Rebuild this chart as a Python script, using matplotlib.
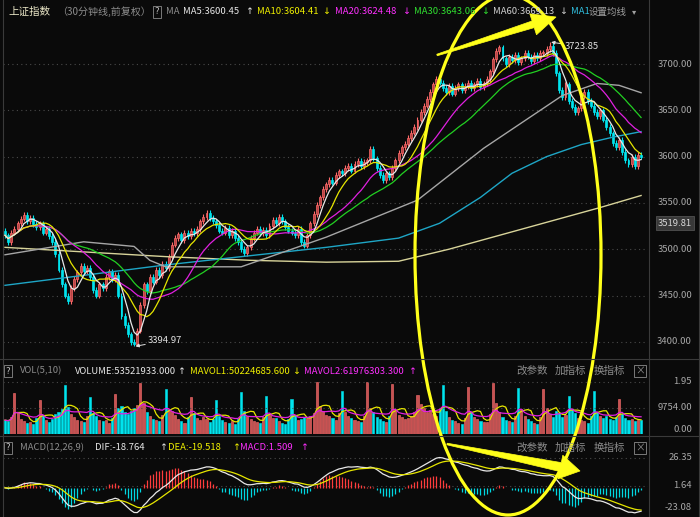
import numpy as np
import pandas as pd
import matplotlib
matplotlib.use('Agg')
import matplotlib.pyplot as plt
from matplotlib.patches import Ellipse, Polygon
from matplotlib.transforms import Affine2D, blended_transform_factory

plt.rcParams['font.family'] = ['Noto Sans CJK SC', 'DejaVu Sans']

W, H = 700, 517

# 30-minute closes, one row per trading day (first row = tail of a day)
day_closes = [
    [3515, 3508, 3518],
    [3522, 3528, 3533, 3537, 3530, 3534, 3527, 3524],
    [3528, 3518, 3522, 3514, 3508, 3495, 3478, 3462],
    [3450, 3444, 3458, 3468, 3475, 3482, 3476, 3480],
    [3470, 3456, 3450, 3462, 3458, 3470, 3476, 3468],
    [3472, 3450, 3428, 3418, 3408, 3400, 3398, 3412],
    [3440, 3462, 3455, 3470, 3465, 3478, 3472, 3484],
    [3480, 3492, 3505, 3512, 3516, 3510, 3518, 3514],
    [3520, 3517, 3522, 3530, 3535, 3539, 3534, 3530],
    [3526, 3520, 3518, 3523, 3515, 3520, 3512, 3508],
    [3500, 3496, 3502, 3512, 3518, 3522, 3517, 3521],
    [3515, 3525, 3532, 3528, 3535, 3530, 3524, 3520],
    [3518, 3515, 3522, 3508, 3504, 3515, 3528, 3538],
    [3548, 3556, 3565, 3570, 3575, 3572, 3580, 3584],
    [3582, 3588, 3590, 3585, 3592, 3595, 3590, 3594],
    [3596, 3608, 3598, 3588, 3580, 3575, 3582, 3578],
    [3588, 3596, 3604, 3610, 3614, 3620, 3626, 3632],
    [3640, 3648, 3655, 3662, 3670, 3678, 3684, 3680],
    [3674, 3670, 3676, 3668, 3674, 3678, 3672, 3676],
    [3680, 3674, 3678, 3682, 3675, 3679, 3684, 3692],
    [3705, 3714, 3718, 3706, 3700, 3708, 3704, 3710],
    [3702, 3706, 3712, 3708, 3703, 3710, 3706, 3712],
    [3712, 3716, 3720, 3712, 3690, 3672, 3664, 3678],
    [3660, 3654, 3648, 3652, 3665, 3670, 3660, 3655],
    [3648, 3644, 3650, 3640, 3632, 3625, 3615, 3610],
    [3618, 3605, 3596, 3592, 3600, 3590, 3602, 3600],
]

# volume in 万 shares, same layout
day_volumes = [
    [5200, 4800, 6500],
    [15500, 8200, 5600, 4900, 4200, 4600, 3900, 6000],
    [12800, 7000, 5200, 4600, 5800, 7600, 8400, 9200],
    [18500, 10200, 7400, 6200, 5100, 4800, 4400, 6600],
    [13800, 7800, 6900, 5300, 4700, 5200, 4300, 5900],
    [14900, 9800, 10600, 8300, 7600, 8800, 9900, 10800],
    [19200, 11800, 8200, 6600, 5800, 5100, 4700, 7200],
    [16800, 9400, 8800, 7200, 5600, 4800, 4300, 6400],
    [13900, 7800, 5900, 5200, 6300, 5600, 4400, 5800],
    [12600, 6900, 5400, 4600, 4200, 4900, 3800, 5600],
    [15800, 8800, 6600, 5800, 4900, 4500, 4100, 6200],
    [14400, 7400, 5900, 6100, 4800, 4300, 3900, 5700],
    [13200, 7100, 5300, 5600, 6400, 5900, 6800, 7900],
    [19400, 10600, 8700, 7300, 6600, 5900, 5400, 7800],
    [16200, 8300, 6800, 5900, 5200, 4700, 4400, 6900],
    [19500, 9600, 8100, 6400, 5700, 4900, 4500, 6600],
    [18700, 8900, 7200, 6300, 5800, 6100, 6600, 8200],
    [14600, 11400, 9700, 8300, 8900, 7600, 6800, 9400],
    [18400, 8700, 6500, 5400, 4700, 4300, 3900, 6100],
    [17600, 8100, 6200, 5600, 4800, 4400, 4600, 7400],
    [19100, 11600, 8300, 6200, 5300, 4900, 4500, 6800],
    [17200, 9200, 6900, 5700, 4900, 4200, 3800, 6300],
    [16900, 9800, 7600, 6400, 8800, 7900, 6200, 7100],
    [14300, 9400, 7800, 6100, 5400, 4800, 4300, 6600],
    [16100, 8200, 6700, 5900, 6600, 5700, 5100, 6200],
    [13100, 7600, 6100, 5200, 5700, 4900, 5400, 5352],
]

low_bar, low_val = 41, 3394.97
high_bar, high_val = 173, 3723.85

# long moving averages: (bar index, value)
ma60_pts = [(0, 3494), (25, 3508), (41, 3503), (46, 3488), (51, 3481), (75, 3481),
            (102, 3513), (131, 3553), (152, 3609), (177, 3666), (188, 3679),
            (195, 3677), (202, 3669)]
ma120_pts = [(0, 3461), (51, 3483), (102, 3502), (125, 3512), (138, 3528),
             (151, 3556), (161, 3582), (172, 3600), (183, 3613), (193, 3621),
             (202, 3627)]
ma250_pts = [(0, 3502), (51, 3492), (78, 3488), (102, 3486), (125, 3487),
             (141, 3500), (157, 3515), (173, 3530), (189, 3545), (202, 3558)]

close = np.array([c for d in day_closes for c in d], dtype=float)
volume = np.array([v for d in day_volumes for v in d], dtype=float)
n = len(close)
idx = np.arange(n)
opn = np.concatenate([[3520.0], close[:-1]])
high = np.maximum(opn, close) + 3
low = np.minimum(opn, close) - 3
low[low_bar] = low_val
high[high_bar] = high_val
up = close >= opn

cs = pd.Series(close)
ma = {p: cs.rolling(p, min_periods=1).mean() for p in (5, 10, 20, 30)}
vs = pd.Series(volume)
mavol1 = vs.rolling(5, min_periods=1).mean()
mavol2 = vs.rolling(10, min_periods=1).mean()
dif = cs.ewm(span=12, adjust=False).mean() - cs.ewm(span=26, adjust=False).mean()
dea = dif.ewm(span=9, adjust=False).mean()
macd = 2 * (dif - dea)

BG = '#0a0a0a'
RED_F, RED_E = '#b94444', '#ff6a6a'
CYAN = '#00e4ee'
GRID = '#4a4a4a'
TXT = '#a8a8a8'

fig = plt.figure(figsize=(W / 100, H / 100), dpi=100, facecolor=BG)
px = Affine2D().scale(1 / W, -1 / H).translate(0, 1) + fig.transFigure


def rect(x0, y0, x1, y1):
    return [x0 / W, 1 - y1 / H, (x1 - x0) / W, (y1 - y0) / H]


def label(x, y, s, color=TXT, size=6.8, ha='left', **kw):
    fig.text(x / W, 1 - y / H, s, color=color, fontsize=size, ha=ha, va='center', **kw)


xlim = (-0.63, 204.2)
ax = fig.add_axes(rect(3, 22, 648, 358))
axv = fig.add_axes(rect(3, 376, 648, 434))
axm = fig.add_axes(rect(3, 453, 648, 517))
for a in (ax, axv, axm):
    a.set_facecolor(BG)
    a.set_xlim(*xlim)
    a.set_xticks([])
    a.set_yticks([])
    for s in a.spines.values():
        s.set_visible(False)

# ---- price panel
ax.set_ylim(3382.5, 3745.4)
for lvl in range(3400, 3701, 50):
    ax.axhline(lvl, color=GRID, lw=0.8, ls=(0, (1, 3)))
cols = np.where(up, RED_E, CYAN)
ax.vlines(idx, low, high, colors=cols, lw=0.8, zorder=2)
body_lo = np.minimum(opn, close)
body_h = np.maximum(np.abs(close - opn), 0.6)
ax.bar(idx[up], body_h[up], bottom=body_lo[up], width=0.62, color=RED_F,
       edgecolor=RED_E, lw=0.5, zorder=3)
ax.bar(idx[~up], body_h[~up], bottom=body_lo[~up], width=0.62, color=CYAN,
       edgecolor=CYAN, lw=0.5, zorder=3)

for pts, c in ((ma250_pts, '#d8d49a'), (ma120_pts, '#1ea6c6'), (ma60_pts, '#a6a6a6')):
    xs, ys = zip(*pts)
    ax.plot(xs, ys, color=c, lw=1.0, zorder=4)
ax.plot(idx, ma[30], color='#22d022', lw=0.9, zorder=4)
ax.plot(idx, ma[20], color='#e020e0', lw=0.9, zorder=4)
ax.plot(idx, ma[10], color='#e6e600', lw=0.9, zorder=4)
ax.plot(idx, ma[5], color='#e8e8e8', lw=0.9, zorder=4)

ax.annotate(f'{low_val:.2f}', xy=(low_bar, low_val), xytext=(10, 4),
            textcoords='offset points', color='#e0e0e0', fontsize=6.8, va='center',
            arrowprops=dict(arrowstyle='-|>', color='#e0e0e0', lw=0.7,
                            mutation_scale=5, shrinkA=0, shrinkB=1))
ax.annotate(f'{high_val:.2f}', xy=(high_bar, high_val), xytext=(11, -3.5),
            textcoords='offset points', color='#e0e0e0', fontsize=6.8, va='center',
            arrowprops=dict(arrowstyle='-|>', color='#e0e0e0', lw=0.7,
                            mutation_scale=5, shrinkA=0, shrinkB=1))

# ---- volume panel
axv.set_ylim(0, 21760)
for lvl in (19508, 9754):
    axv.axhline(lvl, color=GRID, lw=0.8, ls=(0, (1, 3)))
axv.bar(idx[up], volume[up], width=0.66, color='#c85252', edgecolor='#ff7070', lw=0.4)
axv.bar(idx[~up], volume[~up], width=0.66, color=CYAN, edgecolor=CYAN, lw=0.4)
axv.plot(idx, mavol1, color='#e6e600', lw=0.9)
axv.plot(idx, mavol2, color='#e020e0', lw=0.9)

# ---- MACD panel
axm.set_ylim(-25.72, 30.76)
for lvl in (26.35, 1.64):
    axm.axhline(lvl, color=GRID, lw=0.8, ls=(0, (1, 3)))
axm.vlines(idx, 0, macd, colors=np.where(macd >= 0, '#ff3c3c', '#00d8e2'), lw=0.9)
axm.plot(idx, dif, color='#e8e8e8', lw=0.9)
axm.plot(idx, dea, color='#e6e600', lw=0.9)

# ---- frame lines
for y in (358.5, 435.5):
    fig.add_artist(plt.Line2D([0, 700], [y, y], color='#3a3a3a', lw=0.8, transform=px))
for x in (2.5, 648.5, 698.5):
    fig.add_artist(plt.Line2D([x, x], [0, 517], color='#3a3a3a', lw=0.8, transform=px))

# ---- right axis labels
tp = blended_transform_factory(fig.transFigure, ax.transData)
for lvl in range(3400, 3701, 50):
    fig.text(692 / W, lvl, f'{lvl:.2f}', transform=tp, color=TXT, fontsize=6.8,
             ha='right', va='center')
label(692, 223, '3519.81', color='#d8d8d8', ha='right',
      bbox=dict(boxstyle='square,pad=0.25', fc='#383838', ec='#505050', lw=0.6))
label(692, 382, '1.95', ha='right')
label(692, 408, '9754.00', ha='right')
label(692, 429, '0.00', ha='right')
label(692, 458, '26.35', ha='right')
label(692, 486, '1.64', ha='right')
label(692, 507, '-23.08', ha='right')

# ---- headers
qbox = dict(boxstyle='square,pad=0.2', fc='none', ec='#8a8a8a', lw=0.6)
label(8, 12, '上证指数', color='#ece8c8', size=7.6)
label(57, 12, '（30分钟线,前复权）', color='#8c8c8c', size=7.2)
label(155, 12, '?', color='#c0c0c0', bbox=qbox)
label(166, 12, 'MA', color='#8c8c8c')
hdr = [(183, 'MA5:3600.45', 245, '↑', '#e8e8e8'),
       (257, 'MA10:3604.41', 322, '↓', '#f0f000'),
       (335, 'MA20:3624.48', 402, '↓', '#ff30ff'),
       (414, 'MA30:3643.06', 481, '↓', '#30e030'),
       (493, 'MA60:3669.13', 559, '↓', '#d0d0d0')]
for x, s, xa, arr, c in hdr:
    label(x, 12, s, color=c)
    label(xa, 12, arr, color=c, family='DejaVu Sans')
label(571, 12, 'MA1', color='#30c0e0')
label(589, 12, '设置均线', color='#a0a0a0', size=6.8)
label(632, 12, '▾', color='#a0a0a0', size=6, family='DejaVu Sans')

label(6, 371, '?', color='#c0c0c0', bbox=qbox)
label(20, 371, 'VOL(5,10)', color='#8c8c8c')
vh = [(75, 'VOLUME:53521933.000', 177, '↑', '#e8e8e8'),
      (190, 'MAVOL1:50224685.600', 292, '↓', '#f0f000'),
      (304, 'MAVOL2:61976303.300', 408, '↑', '#ff30ff')]
for x, s, xa, arr, c in vh:
    label(x, 371, s, color=c)
    label(xa, 371, arr, color=c, family='DejaVu Sans')

label(6, 448, '?', color='#c0c0c0', bbox=qbox)
label(20, 448, 'MACD(12,26,9)', color='#8c8c8c')
mh = [(95, 'DIF:-18.764', 159, '↑', '#e8e8e8'),
      (168, 'DEA:-19.518', 232, '↑', '#f0f000'),
      (240, 'MACD:1.509', 300, '↑', '#ff30ff')]
for x, s, xa, arr, c in mh:
    label(x, 448, s, color=c)
    label(xa, 448, arr, color=c, family='DejaVu Sans')

for y in (371, 448):
    label(516, y, '改参数', color='#8c8c8c', size=7.6)
    label(555, y, '加指标', color='#8c8c8c', size=7.6)
    label(594, y, '换指标', color='#8c8c8c', size=7.6)
    label(635, y, '×', color='#8c8c8c', size=7,
          bbox=dict(boxstyle='square,pad=0.15', fc='none', ec='#8c8c8c', lw=0.6))

# ---- hand-drawn yellow highlight
YEL = '#ffff1a'
fig.add_artist(Ellipse((508, 255), 186, 520, fill=False, ec=YEL, lw=2.3, transform=px))


def arrow(tail, tip, head_len, head_w, w0, w1):
    t, p = np.array(tail, float), np.array(tip, float)
    d = (p - t) / np.linalg.norm(p - t)
    nrm = np.array([-d[1], d[0]])
    b = p - d * head_len
    pts = [t + nrm * w0, b + nrm * w1, b + nrm * head_w, p,
           b - nrm * head_w, b - nrm * w1, t - nrm * w0]
    fig.add_artist(Polygon(pts, closed=True, fc=YEL, ec=YEL, lw=0.5, transform=px))


arrow((437, 55), (556, 17), 24, 11, 0.8, 3.5)
arrow((447, 444), (580, 471), 20, 12, 0.8, 4.5)

fig.savefig('out.png', dpi=100, facecolor=BG)
